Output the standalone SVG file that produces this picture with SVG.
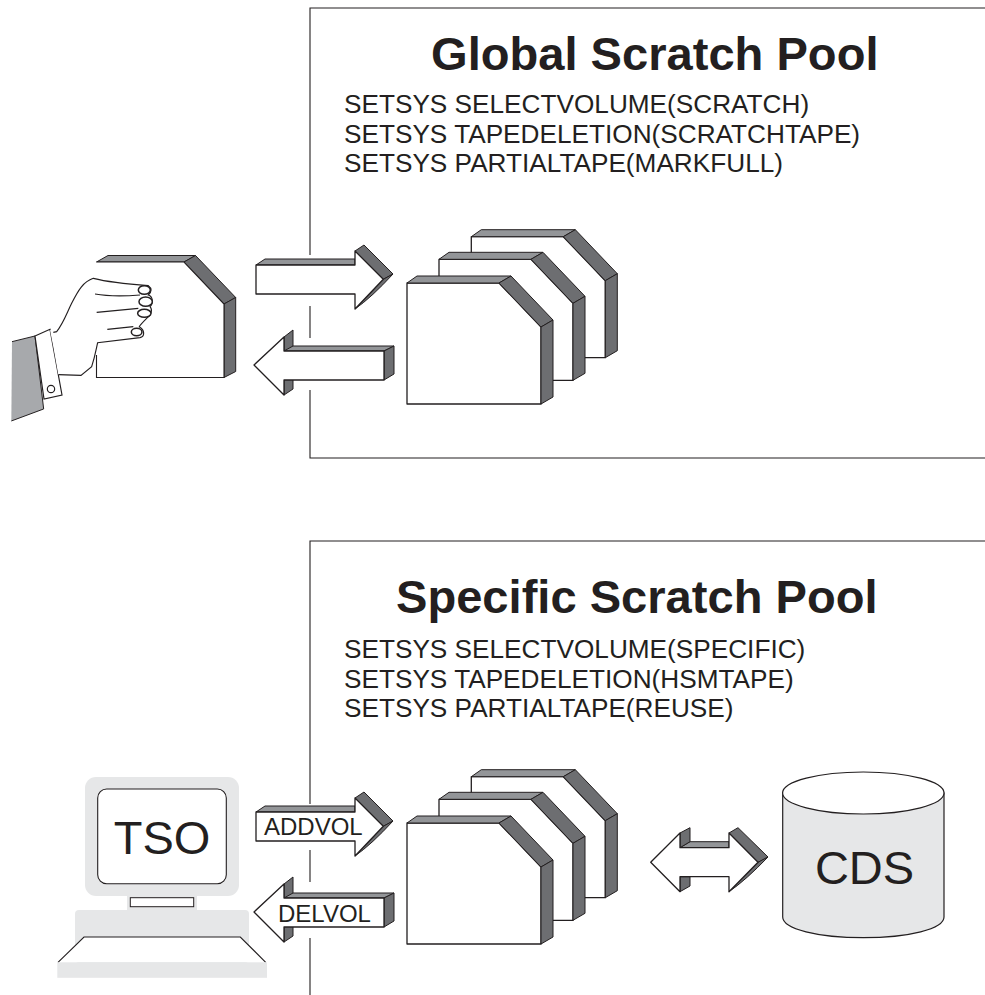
<svg xmlns="http://www.w3.org/2000/svg" xmlns:xlink="http://www.w3.org/1999/xlink" width="985" height="995" viewBox="0 0 985 995">
<style>
.ln{fill:none;stroke:#231f20;stroke-width:1.1}
.fr{fill:#fff;stroke:#231f20;stroke-width:1.3;stroke-linejoin:round}
.mid{fill:#939598;stroke:#231f20;stroke-width:1;stroke-linejoin:round}
.drk{fill:#6d6e71;stroke:#231f20;stroke-width:1;stroke-linejoin:round}
.lg{fill:#e6e7e8}
.t{font-family:"Liberation Sans",Arial,sans-serif;fill:#231f20}
.title{font-size:47.1px;font-weight:bold}
.cmd{font-size:26.2px}
.lbl{font-size:24px}
.big{font-size:47px;text-anchor:middle}
</style>
<defs>
<g id="card">
<polygon class="fr" points="0,0 92,0 134,44 134,121 0,121"/>
<polygon class="mid" points="0,0 10,-7 104,-7 92,0"/>
<polygon class="drk" points="92,0 104,-7 146,37 134,44"/>
<polygon class="drk" points="134,44 146,37 146,114 134,121"/>
</g>
<g id="stack">
<use xlink:href="#card" x="64.3" y="-46.3"/>
<use xlink:href="#card" x="32" y="-23.7"/>
<use xlink:href="#card"/>
</g>
<g id="arrowR">
<polygon class="mid" points="256,265 265,259 355,259 355,265"/>
<polygon class="drk" points="355,251 364,245 393,274 383.3,279.3"/>
<path class="drk" d="M383.3,279.3 L393,274 Q372,297 355,309 Z"/>
<polygon class="fr" points="256,265 355,265 355,251 383.3,279.3 355,309 355,294 256,294"/>
</g>
<g id="arrowL">
<polygon class="drk" points="284,337 293,330 293,389 284,395"/>
<polygon class="mid" points="284,351 293,346 394,346 384,351"/>
<polygon class="drk" points="384,351 394,346 394,374 384,380"/>
<polygon class="fr" points="254,365 284,337 284,351 384,351 384,380 284,380 284,395"/>
</g>
</defs>

<g id="global-pool-frame">
<path class="ln" d="M985,8 H310 V255 M310,306 V338 M310,390 V458 H985"/>
<text class="t title" x="431" y="70">Global Scratch Pool</text>
<text class="t cmd" x="344" y="113">SETSYS SELECTVOLUME(SCRATCH)</text>
<text class="t cmd" x="344" y="142.7">SETSYS TAPEDELETION(SCRATCHTAPE)</text>
<text class="t cmd" x="344" y="172">SETSYS PARTIALTAPE(MARKFULL)</text>
</g>

<g id="specific-pool-frame">
<path class="ln" d="M985,541 H310 V804 M310,850 V882 M310,938 V995"/>
<text class="t title" x="396" y="613">Specific Scratch Pool</text>
<text class="t cmd" x="344" y="658">SETSYS SELECTVOLUME(SPECIFIC)</text>
<text class="t cmd" x="344" y="687.7">SETSYS TAPEDELETION(HSMTAPE)</text>
<text class="t cmd" x="344" y="717.3">SETSYS PARTIALTAPE(REUSE)</text>
</g>

<g id="hand-cartridge">
<polygon class="mid" points="96.5,262 108,255.5 195.5,255.5 184,262"/>
<polygon class="drk" points="184,262 195.5,255.5 235.7,297.5 224,304"/>
<polygon class="drk" points="224,304 235.7,297.5 235.7,371.5 224,377.5"/>
<path fill="#fff" d="M96.5,262 H184 L224,304 V377.5 H96.5 Z"/>
<path class="ln" d="M96.5,355 V377.5 H224 V304 L184,262 H96.5"/>
<g transform="translate(0,240) scale(0.3333)">
<polygon points="36,305 105,288 131,507 34,543" fill="#a7a9ac"/>
<path d="M36,305 L105,288 L131,507 L34,543" fill="none" stroke="#231f20" stroke-width="3"/>
<polygon points="105,288 150,268 186,465 132,477" fill="#fff" stroke="#231f20" stroke-width="3.5"/>
<circle cx="153" cy="447" r="11" fill="#fff" stroke="#231f20" stroke-width="3.5"/>
<path d="M170,275 C190,250 200,220 215,190 C235,150 250,125 280,115 C320,125 380,132 445,137 C456,145 456,155 445,165 C460,170 460,190 450,200 C458,208 455,225 440,235 C430,245 420,255 418,260 C435,270 435,290 420,293 L293,308 C288,330 285,350 275,380 L243,406 L175,404 L160,320 L150,270 Z" fill="#fff" stroke="none"/>
<path d="M160,277 L170,275 C190,250 200,220 215,190 C235,150 250,125 280,115 C320,125 380,132 445,137 C456,145 456,155 445,165 C460,170 460,190 450,200 C458,208 455,225 440,235 C430,245 420,255 418,260 C435,270 435,290 420,293 L293,308 C288,330 285,350 275,380 L243,406 L175,404" fill="none" stroke="#231f20" stroke-width="3.4"/>
<path d="M285,162 C330,170 380,168 420,165 M290,217 L415,205 M322,268 L400,260" fill="none" stroke="#231f20" stroke-width="3.4"/>
<ellipse cx="433" cy="150" rx="18" ry="13" fill="#fff" stroke="#231f20" stroke-width="4.5"/>
<ellipse cx="437" cy="185" rx="20" ry="14" fill="#fff" stroke="#231f20" stroke-width="4.5"/>
<ellipse cx="433" cy="220" rx="20" ry="12" fill="#fff" stroke="#231f20" stroke-width="4.5"/>
<ellipse cx="410" cy="276" rx="16" ry="11" fill="#fff" stroke="#231f20" stroke-width="4.5"/>
</g>
</g>

<g id="global-stack"><use xlink:href="#stack" x="407" y="283"/></g>
<g id="specific-stack"><use xlink:href="#stack" x="407" y="823"/></g>

<g id="tso-terminal">
<rect class="lg" x="85" y="777" width="154" height="119" rx="11"/>
<rect class="lg" x="127" y="896" width="70" height="15"/>
<rect class="lg" x="75" y="910" width="174" height="53" rx="4"/>
<rect x="97.7" y="789" width="128.6" height="94.7" rx="9" fill="#fff" stroke="#231f20" stroke-width="1.1"/>
<rect x="130.3" y="897.7" width="63.4" height="9" fill="#fff" stroke="#231f20" stroke-width="1"/>
<polygon points="84,937 240.3,937 265.7,962.3 58,962.3" fill="#fff"/>
<path class="ln" d="M58,962.3 L84,937 H240.3 L265.7,962.3"/>
<rect class="lg" x="57.3" y="962.3" width="209.7" height="15.5"/>
<text class="t big" x="162" y="854">TSO</text>
</g>

<g id="cds">
<path d="M782.7,793 V917 C782.7,929 818,937.7 863.3,937.7 S944,929 944,917 V793 Z" fill="#e6e7e8" stroke="#231f20" stroke-width="1.2"/>
<ellipse cx="863.3" cy="793" rx="80.7" ry="21" fill="#fff" stroke="#231f20" stroke-width="1.2"/>
<text class="t big" x="864.5" y="884">CDS</text>
</g>

<g id="connectors">
<g id="global-in"><use xlink:href="#arrowR"/></g>
<g id="global-out"><use xlink:href="#arrowL"/></g>
<g id="addvol"><use xlink:href="#arrowR" y="547"/><text class="t lbl" x="264" y="835">ADDVOL</text></g>
<g id="delvol"><use xlink:href="#arrowL" y="547"/><text class="t lbl" x="278" y="922">DELVOL</text></g>
<g id="cds-link">
<polygon class="mid" points="680,847.7 690,841.7 729,841.7 729,847.7"/>
<polygon class="drk" points="680,833 690,827.7 690,841.7 680,847.7"/>
<polygon class="drk" points="680,876.7 690,876.7 690,886 680,891.7"/>
<polygon class="drk" points="729,833 738,827.7 768,857 758,862.3"/>
<path class="drk" d="M758,862.3 L768,857 Q746,880 729,891.7 Z"/>
<polygon class="fr" points="650.7,862.3 680,833 680,847.7 729,847.7 729,833 758,862.3 729,891.7 729,876.7 680,876.7 680,891.7"/>
</g>
</g>
</svg>
